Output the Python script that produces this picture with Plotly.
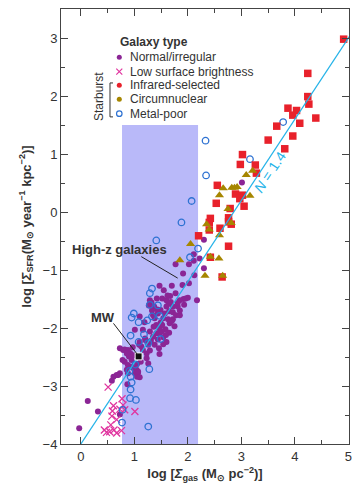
import plotly.graph_objects as go

# ---- data (log gas surface density, log SFR surface density) ----
normal_x = [3.01, 2.30, 2.11, 2.22, 2.30, 1.77, 2.02, 2.11, 1.91, 2.12, 2.02, 1.90, 1.70, 1.47, 1.55,
            1.42, 1.52, 1.32, 1.37, 1.64, 1.72, 1.81, 1.92, 1.96, 2.00, 2.17, 1.29, 1.27, 1.49, 1.65,
            1.72, 1.57, 1.78, 1.44, 1.10, 1.35, 1.38, 1.54, 1.63, 1.72, 1.66, 1.75, 1.49, 1.41, 1.47,
            1.58, 1.51, 1.65, 1.41, 1.35, 1.54, 1.29, 1.59, 1.10, 1.09, 1.26, 1.38, 1.54, 1.46, 0.82,
            0.88, 0.92, 0.98, 0.90, 0.95, 0.82, 1.16, 1.23, 1.29, 1.47, 1.23, 1.26, 0.98, 1.04, 1.07,
            1.01, 0.86, 0.88, 1.05, 1.10, 0.73, 0.67, 0.61, 0.58, 0.73, 0.79, 0.86, 0.78, 0.88, 0.95,
            1.07, 0.13, 0.32, -0.03, 0.73, 0.87, 0.70, 1.60, 1.85, 1.47, 1.60, 1.21, 1.16, 1.19, 1.01,
            1.67, 1.85, 1.77, 1.60, 1.81, 1.13, 1.20, 1.31, 1.36, 1.44, 1.52, 1.70, 1.68, 1.05, 0.97,
            1.12, 1.33, 1.43, 1.62, 1.85, 1.93]
normal_y = [0.51, -0.48, -0.73, -0.80, -0.97, -0.90, -0.90, -0.84, -1.06, -1.09, -1.23, -1.26, -1.27, -1.27, -1.35,
            -1.49, -1.49, -1.56, -1.63, -1.58, -1.63, -1.63, -1.50, -1.49, -1.48, -1.52, -1.52, -1.61, -1.69, -1.71,
            -1.73, -1.75, -1.78, -1.75, -1.80, -1.78, -1.83, -1.83, -1.85, -1.85, -1.92, -1.97, -1.91, -1.95, -2.01,
            -2.02, -2.06, -2.08, -2.09, -2.15, -2.16, -2.06, -2.12, -2.24, -2.29, -2.29, -2.29, -2.28, -2.35, -2.37,
            -2.38, -2.43, -2.47, -2.49, -2.55, -2.58, -2.38, -2.44, -2.39, -2.45, -2.52, -2.61, -2.69, -2.72, -2.77,
            -2.78, -2.72, -2.78, -2.84, -2.85, -2.78, -2.81, -2.84, -2.91, -2.35, -2.38, -2.44, -2.55, -2.64, -2.67,
            -2.75, -3.26, -3.44, -3.73, -3.49, -2.97, -2.81, -1.63, -1.78, -2.09, -2.24, -2.21, -2.03, -1.90, -2.03,
            -1.45, -1.52, -1.40, -1.52, -1.57, -2.32, -2.18, -2.22, -1.98, -2.20, -1.95, -1.88, -1.55, -2.62, -2.33,
            -2.58, -1.70, -1.68, -1.44, -1.70, -1.60]

lsb_x = [0.51, 0.77, 0.61, 0.59, 0.73, 0.82, 1.01, 0.58, 0.67, 0.56, 0.44, 0.54, 0.67, 0.76, 0.48, 0.62, 0.79]
lsb_y = [-3.02, -3.22, -3.34, -3.43, -3.40, -3.41, -3.44, -3.52, -3.58, -3.67, -3.76, -3.79, -3.81, -3.77, -3.80, -3.76, -3.33]

ir_x = [4.91, 4.24, 4.24, 4.26, 3.87, 4.03, 3.96, 4.09, 4.39, 3.66, 3.96, 3.50, 3.81, 3.02, 2.98, 3.26, 3.28, 2.55,
        2.89, 3.02, 2.97, 3.05, 2.53, 2.79, 2.42, 2.40, 2.76, 2.76, 2.81, 2.40, 2.60, 2.20, 2.76, 2.42, 2.64]
ir_y = [2.98, 2.39, 1.99, 1.86, 1.79, 1.75, 1.67, 1.53, 1.62, 1.48, 1.31, 1.24, 1.09, 0.99, 0.82, 0.81, 0.67, 0.46,
        0.31, 0.29, 0.23, 0.10, 0.15, 0.06, -0.11, -0.18, -0.10, -0.17, -0.21, -0.31, -0.28, -0.41, -0.59, -0.78, -1.12]

circ_x = [3.09, 3.21, 2.66, 2.82, 2.92, 2.59, 3.16, 2.75, 2.35, 2.40, 2.81, 2.59, 2.42, 2.58, 2.32, 2.65, 2.05, 1.85, 2.87]
circ_y = [0.64, 0.71, 0.41, 0.42, 0.43, 0.29, 0.28, 0.05, -0.21, -0.30, -0.19, -0.40, -0.77, -0.80, -1.10, -1.10, -0.55, -0.83, 0.42]

mp_x = [3.78, 2.33, 3.16, 2.34, 2.07, 1.88, 1.41, 2.19, 2.04, 1.33, 1.29, 1.29, 0.99, 0.95, 1.08, 1.33, 1.24, 0.93,
        1.18, 1.49, 1.44, 1.47, 1.08, 1.02, 0.91, 0.93, 0.95, 0.93, 0.92, 1.03, 1.28, 1.26, 1.26, 0.78, 0.77]
mp_y = [1.55, 1.23, 0.91, 0.63, 0.19, -0.18, -0.49, -0.63, -0.78, -1.32, -1.40, -1.60, -1.75, -1.82, -1.90, -1.80, -1.87, -2.13,
        -2.11, -2.19, -1.61, -1.79, -2.24, -2.63, -2.74, -2.84, -2.94, -3.06, -3.21, -3.24, -2.71, -3.70, -2.26, -3.41, -3.63]

mw_x = [1.08]
mw_y = [-2.49]

fit_x = [0.0, 5.05]
fit_y = [-4.0, 3.07]

highz_x = [0.77, 2.19]
highz_y = [-4.0, 1.5]

legend_names = ["Normal/irregular", "Low surface brightness", "Infrared-selected", "Circumnuclear", "Metal-poor"]

# ---- styles ----
PURPLE = "#8b2595"
MAGENTA = "#e0359f"
RED = "#e8212b"
OLIVE = "#a68600"
BLUE = "#2e72d2"
LINE = "#25b3e8"
TXT = "#333333"
FONT = "Liberation Sans, Arial, sans-serif"

fig = go.Figure()

fig.add_shape(type="rect", x0=highz_x[0], x1=highz_x[1], y0=highz_y[0], y1=highz_y[1],
              fillcolor="#b9b9f9", line=dict(width=0), layer="below")

fig.add_trace(go.Scatter(x=normal_x, y=normal_y, mode="markers",
                         marker=dict(symbol="circle", size=6, color=PURPLE, line=dict(width=0))))
fig.add_trace(go.Scatter(x=lsb_x, y=lsb_y, mode="markers",
                         marker=dict(symbol="x-thin", size=7, color=MAGENTA, line=dict(width=1.3, color=MAGENTA))))
fig.add_trace(go.Scatter(x=mp_x, y=mp_y, mode="markers",
                         marker=dict(symbol="circle-open", size=6.5, color=BLUE, line=dict(width=1.3, color=BLUE))))
fig.add_trace(go.Scatter(x=ir_x, y=ir_y, mode="markers",
                         marker=dict(symbol="square", size=7.5, color=RED, line=dict(width=0))))
fig.add_trace(go.Scatter(x=circ_x, y=circ_y, mode="markers",
                         marker=dict(symbol="triangle-up", size=8, color=OLIVE, line=dict(width=0))))
fig.add_trace(go.Scatter(x=fit_x, y=fit_y, mode="lines", line=dict(color=LINE, width=1.3)))
fig.add_trace(go.Scatter(x=mw_x, y=mw_y, mode="markers",
                         marker=dict(symbol="square", size=7, color="#111111", line=dict(width=1, color="white"))))

# ---- legend drawn on overlay axes in paper-like coordinates ----
leg_x = [0.2024] * 5
leg_y = [0.889, 0.856, 0.8246, 0.7924, 0.7593]
leg_styles = [
    dict(symbol="circle", size=5, color=PURPLE),
    dict(symbol="x-thin", size=6, color=MAGENTA, line=dict(width=1.2, color=MAGENTA)),
    dict(symbol="circle", size=5, color=RED),
    dict(symbol="circle", size=5, color=OLIVE),
    dict(symbol="circle-open", size=5.5, color=BLUE, line=dict(width=1.2, color=BLUE)),
]
for lx, ly, st in zip(leg_x, leg_y, leg_styles):
    fig.add_trace(go.Scatter(x=[lx], y=[ly], mode="markers", marker=st, xaxis="x2", yaxis="y2"))

annotations = []
annotations.append(dict(x=0.198, y=0.924, xref="paper", yref="paper", text="<b>Galaxy type</b>",
                        showarrow=False, xanchor="left", yanchor="middle",
                        font=dict(size=12, color=TXT, family=FONT)))
for name, ly in zip(legend_names, leg_y):
    annotations.append(dict(x=0.2326, y=ly, xref="paper", yref="paper", text=name, showarrow=False,
                            xanchor="left", yanchor="middle", font=dict(size=12, color=TXT, family=FONT)))
annotations.append(dict(x=0.132, y=0.7977, xref="paper", yref="paper", text="Starburst", showarrow=False,
                        textangle=-90, xanchor="center", yanchor="middle",
                        font=dict(size=12, color=TXT, family=FONT)))
annotations.append(dict(x=0.72, y=-0.64, xref="x", yref="y", text="<b>High-z galaxies</b>", showarrow=False,
                        font=dict(size=13, color=TXT, family=FONT)))
annotations.append(dict(x=0.42, y=-1.82, xref="x", yref="y", text="<b>MW</b>", showarrow=False,
                        font=dict(size=13, color=TXT, family=FONT)))
annotations.append(dict(x=3.53, y=0.69, xref="x", yref="y", text="<i>N</i> = 1.4", showarrow=False,
                        textangle=-56.5, font=dict(size=14, color=LINE, family=FONT)))

shapes_extra = [
    dict(type="line", xref="paper", yref="paper", x0=0.1701, x1=0.1701, y0=0.830, y1=0.752,
         line=dict(color=TXT, width=1)),
    dict(type="line", xref="paper", yref="paper", x0=0.1701, x1=0.1806, y0=0.830, y1=0.830,
         line=dict(color=TXT, width=1)),
    dict(type="line", xref="paper", yref="paper", x0=0.1701, x1=0.1806, y0=0.752, y1=0.752,
         line=dict(color=TXT, width=1)),
    dict(type="line", xref="x", yref="y", x0=1.13, y0=-0.77, x1=1.81, y1=-1.14,
         line=dict(color="#222222", width=1)),
    dict(type="line", xref="x", yref="y", x0=0.61, y0=-1.92, x1=1.06, y1=-2.46,
         line=dict(color="#222222", width=1)),
]
for s in shapes_extra:
    fig.add_shape(**s)

axis_common = dict(showline=True, mirror="ticks", linecolor="#444444", linewidth=1,
                   ticks="inside", ticklen=7, tickcolor="#444444", showgrid=False, zeroline=False,
                   tickfont=dict(size=13, color=TXT, family=FONT), ticklabeloverflow="allow")

fig.update_layout(
    width=352, height=483,
    margin=dict(l=61, r=3, t=9, b=39),
    plot_bgcolor="white", paper_bgcolor="white",
    showlegend=False,
    font=dict(family=FONT, color=TXT),
    xaxis=dict(range=[-0.37, 5.01], tickvals=[0, 1, 2, 3, 4, 5],
               minor=dict(ticks="inside", ticklen=4, dtick=0.5, tick0=0, tickcolor="#444444"),
               title=dict(text="<b>log [<i>Σ</i><sub>gas</sub> (M<sub>⊙</sub> pc<sup>−2</sup>)]</b>",
                          font=dict(size=13, color=TXT, family=FONT), standoff=6),
               automargin=False,
               **axis_common),
    yaxis=dict(range=[-4, 3.5], tickvals=[-4, -3, -2, -1, 0, 1, 2, 3],
               minor=dict(ticks="inside", ticklen=4, dtick=0.5, tick0=0, tickcolor="#444444"),
               title=dict(text="<b>log [<i>Σ</i><sub>SFR</sub>(M<sub>⊙</sub> year<sup>−1</sup> kpc<sup>−2</sup>)]</b>",
                          font=dict(size=13, color=TXT, family=FONT), standoff=8),
               **axis_common),
    xaxis2=dict(range=[0, 1], overlaying="x", visible=False, anchor="y2"),
    yaxis2=dict(range=[0, 1], overlaying="y", visible=False, anchor="x2"),
    annotations=annotations,
)

fig.write_html("out.html")
